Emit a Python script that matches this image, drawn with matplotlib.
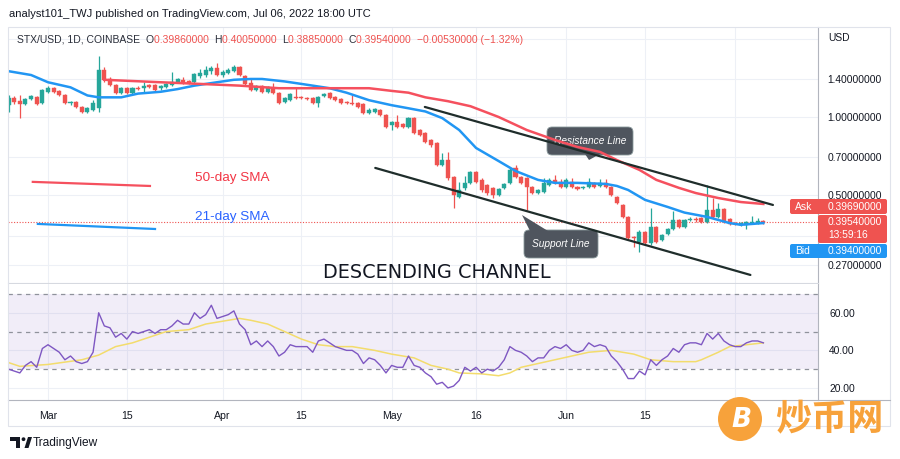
import numpy as np
import pandas as pd
import matplotlib
matplotlib.use("Agg")
import matplotlib.pyplot as plt
import matplotlib.dates as mdates
from matplotlib.patches import Rectangle, FancyBboxPatch, Polygon, Circle
from matplotlib.ticker import FixedLocator, FixedFormatter, NullLocator

plt.rcParams['font.family'] = ['Liberation Sans', 'DejaVu Sans']

# daily candles STX/USD, Feb 22 - Jul 6 2022
dates = pd.date_range("2022-02-22", "2022-07-06", freq="D")

opens = [1.112, 1.183, 1.152, 1.122, 1.173, 1.194, 1.132, 1.248, 1.293, 1.259,
         1.215, 1.127, 1.142, 1.092, 1.045, 1.064, 1.083, 1.516, 1.400, 1.327,
         1.237, 1.293, 1.237, 1.293, 1.293, 1.327, 1.327, 1.293, 1.304, 1.327,
         1.363, 1.387, 1.375, 1.363, 1.437, 1.450, 1.503, 1.543, 1.450, 1.476,
         1.503, 1.557, 1.437, 1.350, 1.270, 1.316, 1.248, 1.293, 1.237, 1.142,
         1.162, 1.194, 1.194, 1.183, 1.183, 1.132, 1.204, 1.237, 1.194, 1.173,
         1.142, 1.132, 1.132, 1.122, 1.036, 1.045, 1.064, 1.018, 0.932, 0.957,
         0.940, 0.915, 0.991, 0.891, 0.868, 0.816, 0.794, 0.654, 0.683, 0.588,
         0.493, 0.534, 0.558, 0.615, 0.573, 0.548, 0.534, 0.501, 0.534, 0.558,
         0.637, 0.588, 0.583, 0.538, 0.510, 0.515, 0.548, 0.573, 0.563, 0.538,
         0.563, 0.538, 0.534, 0.538, 0.558, 0.543, 0.558, 0.538, 0.493, 0.459,
         0.413, 0.346, 0.331, 0.361, 0.328, 0.378, 0.337, 0.355, 0.371, 0.402,
         0.378, 0.402, 0.405, 0.409, 0.395, 0.439, 0.413, 0.443, 0.405, 0.391,
         0.385, 0.385, 0.391, 0.391, 0.3986]
highs = [1.215, 1.204, 1.215, 1.183, 1.215, 1.204, 1.282, 1.316, 1.304, 1.270,
         1.226, 1.152, 1.152, 1.102, 1.092, 1.162, 1.716, 1.557, 1.425, 1.339,
         1.304, 1.304, 1.304, 1.316, 1.363, 1.339, 1.339, 1.327, 1.351, 1.489,
         1.412, 1.425, 1.387, 1.476, 1.529, 1.570, 1.570, 1.613, 1.516, 1.543,
         1.584, 1.570, 1.450, 1.400, 1.327, 1.327, 1.316, 1.351, 1.248, 1.194,
         1.237, 1.293, 1.204, 1.194, 1.194, 1.204, 1.237, 1.248, 1.204, 1.183,
         1.152, 1.215, 1.142, 1.132, 1.083, 1.083, 1.073, 1.027, 0.965, 1.018,
         0.948, 1.000, 1.000, 0.899, 0.876, 0.823, 0.801, 0.727, 0.734, 0.593,
         0.563, 0.593, 0.620, 0.620, 0.583, 0.553, 0.538, 0.534, 0.558, 0.637,
         0.654, 0.593, 0.588, 0.543, 0.529, 0.583, 0.583, 0.599, 0.578, 0.583,
         0.583, 0.543, 0.543, 0.583, 0.563, 0.578, 0.578, 0.543, 0.497, 0.463,
         0.416, 0.349, 0.368, 0.365, 0.447, 0.381, 0.355, 0.375, 0.435, 0.405,
         0.405, 0.413, 0.413, 0.413, 0.548, 0.488, 0.467, 0.447, 0.409, 0.395,
         0.395, 0.398, 0.416, 0.409, 0.4005]
lows = [1.045, 1.122, 0.991, 1.112, 1.162, 1.112, 1.122, 1.237, 1.237, 1.204,
        1.122, 1.112, 1.083, 1.036, 1.036, 1.054, 1.045, 1.363, 1.316, 1.226,
        1.226, 1.226, 1.226, 1.270, 1.248, 1.293, 1.259, 1.270, 1.293, 1.316,
        1.351, 1.339, 1.339, 1.351, 1.412, 1.425, 1.463, 1.437, 1.425, 1.463,
        1.489, 1.437, 1.327, 1.259, 1.259, 1.237, 1.237, 1.226, 1.122, 1.132,
        1.152, 1.173, 1.173, 1.162, 1.122, 1.092, 1.194, 1.173, 1.152, 1.122,
        1.122, 1.112, 1.083, 1.027, 1.027, 1.036, 1.009, 0.907, 0.891, 0.907,
        0.907, 0.907, 0.860, 0.845, 0.794, 0.767, 0.648, 0.648, 0.573, 0.447,
        0.488, 0.524, 0.553, 0.558, 0.515, 0.501, 0.488, 0.497, 0.529, 0.553,
        0.583, 0.553, 0.439, 0.506, 0.506, 0.510, 0.543, 0.553, 0.534, 0.534,
        0.534, 0.524, 0.529, 0.534, 0.534, 0.538, 0.534, 0.497, 0.463, 0.409,
        0.340, 0.316, 0.303, 0.325, 0.322, 0.328, 0.334, 0.352, 0.368, 0.375,
        0.375, 0.398, 0.395, 0.391, 0.391, 0.409, 0.409, 0.391, 0.385, 0.385,
        0.381, 0.371, 0.388, 0.388, 0.3885]
closes = [1.183, 1.142, 1.122, 1.173, 1.204, 1.122, 1.270, 1.293, 1.248, 1.215,
          1.132, 1.142, 1.092, 1.045, 1.083, 1.132, 1.516, 1.387, 1.327, 1.237,
          1.293, 1.237, 1.293, 1.282, 1.316, 1.304, 1.270, 1.316, 1.339, 1.363,
          1.400, 1.351, 1.351, 1.463, 1.476, 1.516, 1.543, 1.450, 1.489, 1.516,
          1.557, 1.450, 1.339, 1.270, 1.316, 1.248, 1.304, 1.237, 1.132, 1.183,
          1.226, 1.183, 1.183, 1.173, 1.132, 1.194, 1.226, 1.183, 1.162, 1.132,
          1.132, 1.122, 1.092, 1.036, 1.064, 1.073, 1.018, 0.915, 0.957, 0.915,
          0.915, 0.991, 0.868, 0.853, 0.801, 0.780, 0.654, 0.683, 0.583, 0.501,
          0.524, 0.558, 0.615, 0.563, 0.524, 0.510, 0.501, 0.529, 0.553, 0.626,
          0.588, 0.558, 0.538, 0.510, 0.524, 0.558, 0.573, 0.558, 0.538, 0.573,
          0.538, 0.529, 0.538, 0.563, 0.538, 0.558, 0.538, 0.501, 0.467, 0.413,
          0.343, 0.343, 0.361, 0.328, 0.378, 0.331, 0.352, 0.371, 0.402, 0.378,
          0.402, 0.405, 0.402, 0.395, 0.439, 0.413, 0.443, 0.395, 0.388, 0.388,
          0.391, 0.395, 0.395, 0.3986, 0.3954]

# moving averages (day offset from Feb 22, value)
sma21_day = [0, 4, 7, 11, 14, 16, 20, 23, 27, 30, 33, 37, 40, 43, 45, 49, 52, 57, 60, 64,
             68, 71, 74, 77, 80, 83, 87, 90, 94, 97, 101, 106, 108, 110, 113, 117, 120, 124,
             128, 130, 134]
sma21 = [1.50, 1.45, 1.36, 1.30, 1.21, 1.19, 1.19, 1.23, 1.25, 1.28, 1.32, 1.36, 1.39, 1.40,
         1.40, 1.37, 1.34, 1.29, 1.24, 1.16, 1.11, 1.08, 1.05, 0.99, 0.891, 0.760, 0.677,
         0.620, 0.573, 0.558, 0.558, 0.553, 0.543, 0.524, 0.480, 0.451, 0.429, 0.413, 0.391,
         0.385, 0.391]
sma50_day = [17, 27, 34, 41, 48, 54, 64, 68, 71, 74, 78, 82, 87, 92, 97, 101, 105, 108, 112,
             115, 119, 122, 126, 130, 134]
sma50 = [1.39, 1.36, 1.34, 1.32, 1.29, 1.29, 1.29, 1.26, 1.24, 1.19, 1.15, 1.10, 1.00, 0.891,
         0.816, 0.767, 0.734, 0.683, 0.626, 0.573, 0.534, 0.510, 0.488, 0.471, 0.463]

rsi = [30, 29, 28, 32, 34, 31, 41, 43, 41, 39, 35, 37, 34, 33, 34, 39, 60, 53, 52, 47,
       49, 46, 50, 49, 50, 51, 49, 51, 51, 53, 56, 54, 54, 60, 57, 59, 64, 57, 58, 59,
       61, 54, 51, 43, 45, 42, 45, 42, 37, 39, 43, 42, 42, 42, 39, 45, 46, 44, 42, 41,
       40, 40, 38, 33, 36, 35, 32, 28, 32, 31, 31, 37, 32, 31, 28, 26, 22, 23, 20, 21,
       24, 31, 29, 31, 28, 30, 29, 31, 35, 42, 40, 39, 37, 34, 36, 36, 40, 42, 41, 43,
       40, 39, 40, 44, 42, 43, 42, 37, 34, 30, 25, 25, 29, 27, 35, 32, 35, 37, 41, 39,
       43, 44, 44, 43, 49, 46, 49, 45, 43, 42, 42, 44, 45, 45, 44]
rsi_ma_day = [0, 2, 7, 13, 16, 19, 22, 25, 28, 32, 35, 39, 41, 43, 46, 49, 52, 55, 58, 61,
              65, 68, 72, 75, 78, 80, 84, 87, 89, 91, 94, 97, 100, 103, 107, 111, 114, 118,
              122, 123, 126, 128, 131, 134]
rsi_ma = [33.5, 31.5, 32.5, 35, 37.5, 42, 44, 47, 50, 51, 54, 56, 57, 56, 54, 50, 46, 43, 42,
          42, 40, 38, 36, 32, 30, 28, 27.5, 26.5, 28, 31, 33, 35, 37, 39, 40, 38, 35, 34, 34,
          35, 39, 42, 43, 44]

# trend lines drawn by the author (day offset, price)
upper_day, upper_price = [73.9, 135.7], [1.093, 0.459]
lower_day, lower_price = [65.1, 131.7], [0.637, 0.247]
key50_day, key50_price = [4.3, 25.1], [0.563, 0.543]
key21_day, key21_price = [5.2, 26.0], [0.388, 0.371]

price_levels = [2.0, 1.4, 1.0, 0.7, 0.5, 0.35, 0.27]
price_labels = ['', '1.40000000', '1.00000000', '0.70000000', '0.50000000', '', '0.27000000']
rsi_levels = [20, 40, 60]
tick_dates = ['2022-03-01', '2022-03-15', '2022-04-01', '2022-04-15', '2022-05-01',
              '2022-05-16', '2022-06-01', '2022-06-15', '2022-07-01']
tick_labels = ['Mar', '15', 'Apr', '15', 'May', '16', 'Jun', '15', 'Jul']

GREEN = '#26a69a'
RED = '#ef5350'
BLUE = '#2196f3'
SMA_RED = '#f5505e'
PURPLE = '#7e57c2'
YELLOW = '#f3dc6c'
TXT = '#131722'
GRID = '#edf0f6'
AXLINE = '#b2b5be'

fig = plt.figure(figsize=(9, 4.59), dpi=100)
ov = fig.add_axes([0, 0, 1, 1], zorder=10)
ov.set_xlim(0, 900)
ov.set_ylim(459, 0)
ov.axis('off')

ax = fig.add_axes([8 / 900, 1 - 283 / 459, 810 / 900, 256 / 459])
rx = fig.add_axes([8 / 900, 1 - 400 / 459, 810 / 900, 116 / 459])

x = mdates.date2num(dates)
x0 = x[0]
ticks_x = mdates.date2num(pd.to_datetime(tick_dates))

# ---- price pane
o, h, l, c = map(np.array, (opens, highs, lows, closes))
col = np.where(c >= o, GREEN, RED)
ax.vlines(x, np.minimum(l, np.minimum(o, c)), np.maximum(h, np.maximum(o, c)),
          colors=col, lw=0.9, zorder=2)
ax.bar(x, np.abs(c - o), bottom=np.minimum(o, c), width=0.72, color=col,
       edgecolor=col, linewidth=0.3, zorder=2)

ax.plot(x0 + np.array(sma21_day), sma21, color=BLUE, lw=1.8, zorder=4)
ax.plot(x0 + np.array(sma50_day), sma50, color=SMA_RED, lw=1.8, zorder=4)
ax.plot(x0 + np.array(key50_day), key50_price, color=SMA_RED, lw=1.6, zorder=4)
ax.plot(x0 + np.array(key21_day), key21_price, color=BLUE, lw=1.6, zorder=4)
ax.axhline(closes[-1], color=RED, lw=0.8, ls=(0, (1, 1.5)), zorder=1)

# callout boxes (pixel coordinates of the overlay), under the channel lines
ax.add_patch(FancyBboxPatch((547, 127), 86, 28, boxstyle='round,pad=0,rounding_size=5',
                            fc='#4f555e', ec='#8a9a9c', lw=0.6, transform=ov.transData,
                            zorder=3, clip_on=False))
ax.add_patch(Polygon([(585, 154), (600, 154), (589, 160)], closed=True, fc='#4f555e',
                     transform=ov.transData, zorder=3, clip_on=False))
ax.text(590, 141.5, 'Resistance Line', color='white', style='italic', fontsize=7.3,
        ha='center', va='center', transform=ov.transData, zorder=3)
ax.add_patch(FancyBboxPatch((524, 230), 74, 28, boxstyle='round,pad=0,rounding_size=5',
                            fc='#4f555e', ec='#8a9a9c', lw=0.6, transform=ov.transData,
                            zorder=3, clip_on=False))
ax.add_patch(Polygon([(530, 231), (548, 231), (522, 215)], closed=True, fc='#4f555e',
                     transform=ov.transData, zorder=3, clip_on=False))
ax.text(561, 244, 'Support Line', color='white', style='italic', fontsize=7.3,
        ha='center', va='center', transform=ov.transData, zorder=3)

ax.plot(x0 + np.array(upper_day), upper_price, color='#1f2d2b', lw=1.6, zorder=5,
        solid_capstyle='round')
ax.plot(x0 + np.array(lower_day), lower_price, color='#1f2d2b', lw=1.6, zorder=5,
        solid_capstyle='round')

ax.set_yscale('log')
ax.set_ylim(0.230, 2.218)
ax.set_xlim(x0 - 0.1, x0 + 143.7)
ax.yaxis.set_major_locator(FixedLocator(price_levels))
ax.yaxis.set_major_formatter(FixedFormatter(price_labels))
ax.yaxis.set_minor_locator(NullLocator())
ax.yaxis.tick_right()
ax.tick_params(axis='y', length=0, pad=7, labelsize=7.4, labelcolor=TXT)
ax.set_xticks(ticks_x)
ax.tick_params(axis='x', length=0, labelbottom=False)
ax.grid(True, color=GRID, lw=0.8, zorder=0)
ax.set_axisbelow(True)
for s in ['top', 'left']:
    ax.spines[s].set_visible(False)
ax.spines['bottom'].set_color('#d6d9e0')
ax.spines['right'].set_color(AXLINE)

# ---- RSI pane
rx.axhspan(30, 70, color=PURPLE, alpha=0.1, lw=0)
for lv in (70, 50, 30):
    rx.axhline(lv, color='#8f929b', lw=0.9, ls=(0, (3.5, 3.5)))
rx.plot(x, rsi, color=PURPLE, lw=1.0, zorder=3)
rx.plot(x0 + np.array(rsi_ma_day), rsi_ma, color=YELLOW, lw=1.1, zorder=2)
rx.set_xlim(x0 - 0.1, x0 + 143.7)
rx.set_ylim(13.6, 75.3)
rx.set_yticks(rsi_levels)
rx.set_yticklabels(['%.2f' % v for v in rsi_levels])
rx.yaxis.tick_right()
rx.tick_params(axis='y', length=0, pad=8, labelsize=7.4, labelcolor=TXT)
rx.set_xticks(ticks_x)
rx.set_xticklabels(tick_labels)
rx.tick_params(axis='x', length=0, pad=8, labelsize=7.6, labelcolor=TXT)
rx.grid(True, color=GRID, lw=0.8, zorder=0)
rx.set_axisbelow(True)
for s in ['top', 'left']:
    rx.spines[s].set_visible(False)
rx.spines['bottom'].set_color(AXLINE)
rx.spines['right'].set_color(AXLINE)

# ---- overlay: frame, header, price labels, annotations, logos
ov.add_patch(Rectangle((8, 27), 882, 399, fill=False, ec='#e0e3eb', lw=0.8))
ov.plot([818, 890], [400, 400], color=AXLINE, lw=0.8)

ov.text(9, 14, 'analyst101_TWJ published on TradingView.com, Jul 06, 2022 18:00 UTC',
        color=TXT, fontsize=8.0, va='center')

parts = [('STX/USD, 1D, COINBASE  ', '#2a2e39'), ('O', '#2a2e39'), ('0.39860000  ', RED),
         ('H', '#2a2e39'), ('0.40050000  ', RED), ('L', '#2a2e39'), ('0.38850000  ', RED),
         ('C', '#2a2e39'), ('0.39540000  ', RED), ('\u22120.00530000 (\u22121.32%)', RED)]
prev = ov.text(17, 40, parts[0][0], color=parts[0][1], fontsize=7.5, va='center')
for s, cc in parts[1:]:
    prev = ov.annotate(s, xy=(1, 0.5), xycoords=prev, va='center', ha='left',
                       color=cc, fontsize=7.5, annotation_clip=False)

ov.text(828, 38, 'USD', color=TXT, fontsize=7.4, va='center')

ov.text(195, 178, '50-day SMA', color='#f23645', fontsize=9.7, va='center')
ov.text(195, 217, '21-day SMA', color='#2962ff', fontsize=9.7, va='center')
ov.text(437, 272, 'DESCENDING CHANNEL', color='#131722', fontsize=13.9, va='center',
        ha='center', family='DejaVu Sans')

# ask / last / bid price labels
ov.add_patch(FancyBboxPatch((790, 199), 97, 15, boxstyle='round,pad=0,rounding_size=2',
                            fc=RED, ec='none'))
ov.text(795, 206.5, 'Ask', color='white', fontsize=7.4, va='center')
ov.text(828, 206.5, '0.39690000', color='white', fontsize=7.4, va='center')
ov.add_patch(FancyBboxPatch((818, 215), 69, 28, boxstyle='round,pad=0,rounding_size=2',
                            fc=RED, ec='none'))
ov.text(828, 222, '0.39540000', color='white', fontsize=7.4, va='center')
ov.text(828, 235, '13:59:16', color='white', fontsize=7.4, va='center')
ov.add_patch(FancyBboxPatch((790, 244), 97, 14, boxstyle='round,pad=0,rounding_size=2',
                            fc=BLUE, ec='none'))
ov.text(795, 251, 'Bid', color='white', fontsize=7.4, va='center')
ov.text(828, 251, '0.39400000', color='white', fontsize=7.4, va='center')

# TradingView logo
ov.add_patch(Polygon([(10, 437), (20, 437), (20, 448), (16, 448), (16, 441), (10, 441)],
                     closed=True, fc='#131722'))
ov.add_patch(Circle((23.5, 439.2), 1.9, fc='#131722'))
ov.add_patch(Polygon([(24.5, 448), (28, 437), (32, 437), (28.5, 448)], closed=True,
                     fc='#131722'))
ov.text(33, 443, 'TradingView', color='#131722', fontsize=8.6, va='center')

# watermark
ov.add_patch(Circle((740, 419), 22, fc='#f7a23b', ec='none'))
ov.text(741, 420, 'B', color='white', fontsize=19, fontweight='bold', style='italic',
        ha='center', va='center', family='DejaVu Sans')
ov.text(829, 420, '炒币网', color='#f7a23b', fontsize=26, fontweight='bold',
        ha='center', va='center', family=['Noto Sans CJK SC', 'DejaVu Sans'])

fig.savefig('out.png', dpi=100, facecolor='white')
